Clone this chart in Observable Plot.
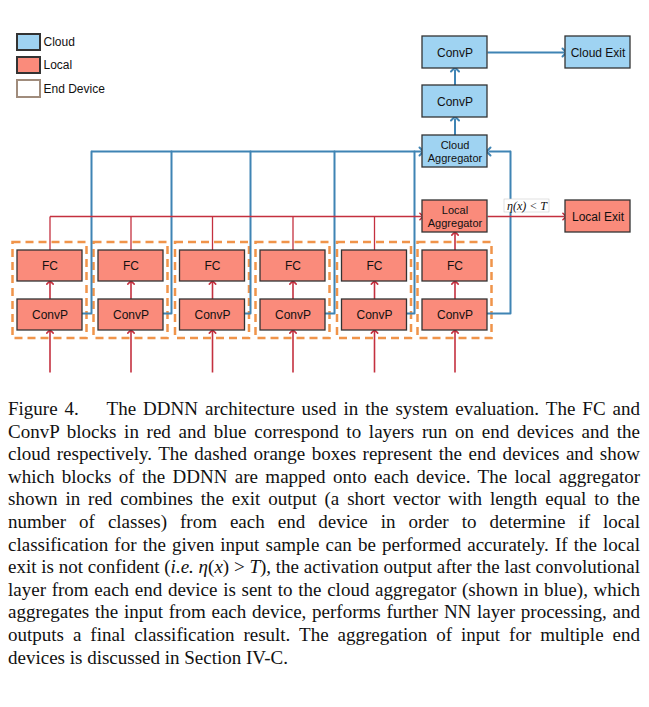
<!DOCTYPE html>
<html><head><meta charset="utf-8">
<script src="https://cdn.jsdelivr.net/npm/d3@7"></script>
<script src="https://cdn.jsdelivr.net/npm/@observablehq/plot@0.6"></script>
<style>
body{margin:0;background:#fff}
#cap{font-family:"Liberation Serif",serif;font-size:19px;line-height:22.6px;text-align:justify;margin:6px 9px 0 8px;color:#111}
</style></head><body>
<div id="chart"></div>
<div id="cap">Figure 4.&nbsp;&nbsp;&nbsp; The DDNN architecture used in the system evaluation. The FC and ConvP blocks in red and blue correspond to layers run on end devices and the cloud respectively. The dashed orange boxes represent the end devices and show which blocks of the DDNN are mapped onto each device. The local aggregator shown in red combines the exit output (a short vector with length equal to the number of classes) from each end device in order to determine if local classification for the given input sample can be performed accurately. If the local exit is not confident (<i>i.e.</i> <i>η</i>(<i>x</i>) &gt; <i>T</i>), the activation output after the last convolutional layer from each end device is sent to the cloud aggregator (shown in blue), which aggregates the input from each device, performs further NN layer processing, and outputs a final classification result. The aggregation of input for multiple end devices is discussed in Section IV-C.</div>
<script>
// device centres and where each one's blue wire climbs
const deviceX = [49.5, 130.5, 212, 292.5, 374, 454.5]
const cloudRiseX = [91, 171, 250, 334, 414]

// central blocks: label, x1, x2, y1, y2, kind
const blocks = [
  {label: "ConvP", x1: 422, x2: 487, y1: 36, y2: 68, kind: "cloud"},
  {label: "Cloud Exit", x1: 565, x2: 630, y1: 36, y2: 68, kind: "cloud"},
  {label: "ConvP", x1: 422, x2: 487, y1: 85, y2: 117, kind: "cloud"},
  {label: "Cloud\nAggregator", x1: 422, x2: 487, y1: 135, y2: 167, kind: "cloud"},
  {label: "Local\nAggregator", x1: 422, x2: 487, y1: 200, y2: 232, kind: "local"},
  {label: "Local Exit", x1: 565, x2: 630, y1: 200, y2: 232, kind: "local"}
]

const RED = "#fa8b7b", BLUE = "#9fd3f2", RLINE = "#c4303f", BLINE = "#3f84b4", ORANGE = "#f0944a"

const devBoxes = deviceX.map(c => ({x1: c - 37, x2: c + 37, y1: 242, y2: 338}))
const devBlocks = deviceX.flatMap(c => [
  {label: "FC", x1: c - 32.5, x2: c + 32.5, y1: 250, y2: 281},
  {label: "ConvP", x1: c - 32.5, x2: c + 32.5, y1: 299, y2: 330}
])

const arrowsRed = [
  ...deviceX.map(c => ({x1: c, y1: 372, x2: c, y2: 331})),
  ...deviceX.map(c => ({x1: c, y1: 299, x2: c, y2: 282})),
  {x1: deviceX[5], y1: 250, x2: deviceX[5], y2: 233},
  {x1: 49.5, y1: 216, x2: 421, y2: 216},
  {x1: 487, y1: 216, x2: 564, y2: 216}
]
const redUp = deviceX.slice(0, 5).map(c => ({x1: c, y1: 250, x2: c, y2: 216}))

const arrowsBlue = [
  {x1: 91, y1: 151, x2: 421, y2: 151},
  {x1: 510, y1: 151, x2: 488, y2: 151},
  {x1: 454.5, y1: 135, x2: 454.5, y2: 118},
  {x1: 454.5, y1: 85, x2: 454.5, y2: 69},
  {x1: 487, y1: 52, x2: 564, y2: 52}
]
const blueWires = [
  ...cloudRiseX.map((bx, i) => [[deviceX[i] + 32.5, 313], [bx, 313], [bx, 151]]),
  [[487, 313], [510, 313], [510, 151]]
].flatMap((pts, k) => pts.map(([x, y]) => ({x, y, k})))

const legend = [
  {label: "Cloud", y1: 34, y2: 50, fill: BLUE, stroke: "#333", dash: null},
  {label: "Local", y1: 57, y2: 73, fill: RED, stroke: "#333", dash: null},
  {label: "End Device", y1: 80, y2: 97, fill: "none", stroke: "#a08c7c", dash: "6,4"}
]

const chart = Plot.plot({
  width: 649, height: 392, margin: 0,
  x: {domain: [0, 649], range: [0, 649], axis: null},
  y: {domain: [0, 392], range: [0, 392], axis: null},
  style: {fontFamily: "Liberation Sans, Arial, sans-serif", background: "#fff"},
  marks: [
    Plot.rect(devBoxes, {x1: "x1", x2: "x2", y1: "y1", y2: "y2", fill: "none", stroke: ORANGE, strokeWidth: 2.5, strokeDasharray: "8,5"}),
    Plot.line(blueWires, {x: "x", y: "y", z: "k", stroke: BLINE, strokeWidth: 2}),
    Plot.link(redUp, {x1: "x1", y1: "y1", x2: "x2", y2: "y2", stroke: RLINE, strokeWidth: 1.3}),
    Plot.link(arrowsRed, {x1: "x1", y1: "y1", x2: "x2", y2: "y2", stroke: RLINE, strokeWidth: 1.6, markerEnd: "arrow"}),
    Plot.link(arrowsBlue, {x1: "x1", y1: "y1", x2: "x2", y2: "y2", stroke: BLINE, strokeWidth: 2, markerEnd: "arrow"}),
    Plot.rect(devBlocks, {x1: "x1", x2: "x2", y1: "y1", y2: "y2", fill: RED, stroke: "#333", strokeWidth: 1.3}),
    Plot.text(devBlocks, {x: d => (d.x1 + d.x2) / 2, y: d => (d.y1 + d.y2) / 2, text: "label", fontSize: 12, fill: "#111"}),
    Plot.rect(blocks, {x1: "x1", x2: "x2", y1: "y1", y2: "y2", fill: d => d.kind === "cloud" ? BLUE : RED, stroke: "#333", strokeWidth: 1.3}),
    Plot.text(blocks, {x: d => (d.x1 + d.x2) / 2, y: d => (d.y1 + d.y2) / 2, text: "label", fontSize: d => d.label.includes("\n") ? 11 : 12, lineHeight: 1.15, fill: "#111"}),
    Plot.rect([0], {x1: 504, x2: 549, y1: 199, y2: 212, fill: "#fff", stroke: "#ccc", strokeWidth: 0.6}),
    Plot.text(["η(x) < T"], {x: 526.5, y: 205.5, fontFamily: "Liberation Serif, serif", fontStyle: "italic", fontSize: 12, fill: "#111"}),
    Plot.rect(legend, {x1: 17, x2: 40, y1: "y1", y2: "y2", fill: "fill", stroke: "stroke", strokeWidth: 2, strokeDasharray: d => d.dash}),
    Plot.text(legend, {x: 43, y: d => (d.y1 + d.y2) / 2, text: "label", textAnchor: "start", fontSize: 12, fill: "#111"})
  ]
})
document.getElementById("chart").append(chart)
</script>
</body></html>
